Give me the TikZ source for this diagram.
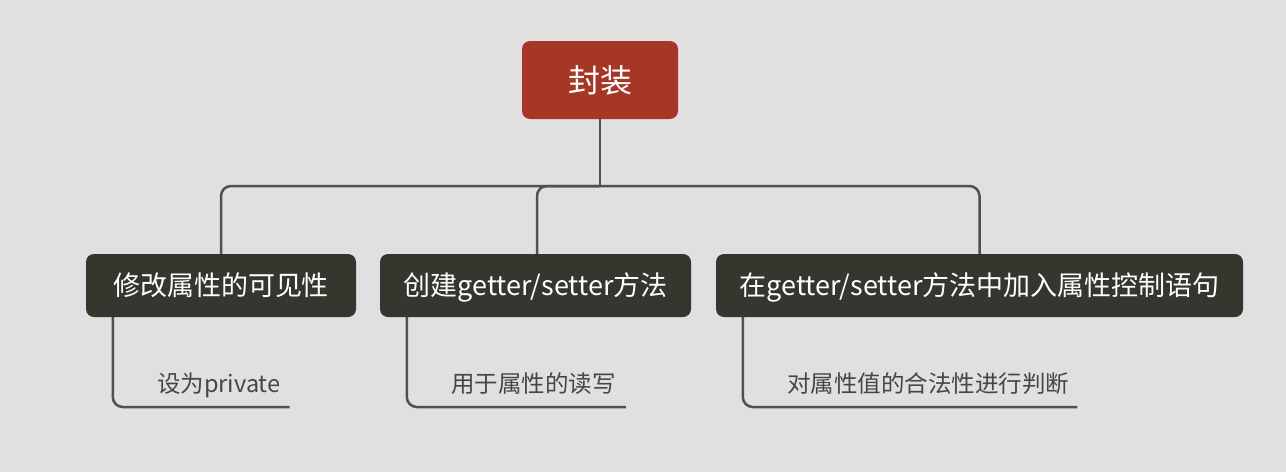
\documentclass[tikz,border=0pt]{standalone}
\usepackage{fontspec}
\setmainfont{Noto Sans CJK SC}
\definecolor{bgcol}{RGB}{224,224,224}
\definecolor{rootcol}{RGB}{166,54,38}
\definecolor{boxcol}{RGB}{54,54,47}
\definecolor{linecol}{RGB}{80,80,80}
\definecolor{subcol}{RGB}{70,70,70}
\begin{document}
\begin{tikzpicture}[x=1pt,y=-1pt,
        rootbox/.style={fill=rootcol,text=white,rounded corners=8pt,minimum width=156pt,minimum height=78pt,
            text height=28.2pt,text depth=3.8pt,font=\fontsize{32}{38}\selectfont},
        topicbox/.style={fill=boxcol,text=white,rounded corners=8pt,minimum height=63pt,inner xsep=0pt,
            text height=23.8pt,text depth=3.2pt,font=\fontsize{27}{32}\selectfont},
        subnote/.style={text=subcol,inner sep=0pt,anchor=base west,font=\fontsize{23.5}{28}\selectfont},
        link/.style={draw=linecol,line width=2.5pt,rounded corners=10pt}]
    \fill[bgcol,use as bounding box] (0,0) rectangle (1286,472);
    %% central topic
    \node[rootbox] (root) at (600,80) {封装};
    \coordinate (hub) at (600,186);
    %% main topics
    \node[topicbox,minimum width=270pt] (vis) at (221,285.5) {修改属性的可见性};
    \node[topicbox,minimum width=311pt] (gs) at (535.5,285.5) {创建getter/setter方法};
    \node[topicbox,minimum width=527pt] (ctl) at (979.5,285.5) {在getter/setter方法中加入属性控制语句};
    %% notes
    \node[subnote] (nvis) at (157,392) {设为private};
    \node[subnote] (ngs) at (451,392) {用于属性的读写};
    \node[subnote] (nctl) at (787,392) {对属性值的合法性进行判断};
    %% branches
    \draw[link] (root) -- (hub);
    \draw[link] (hub) -| (vis.north);
    \draw[link] (hub) -| ([xshift=1.5pt]gs.north);
    \draw[link] (hub) -| (ctl.north);
    \draw[link] ([xshift=27pt]vis.south west) |- ([xshift=9pt,yshift=-15pt]nvis.base east);
    \draw[link] ([xshift=27pt]gs.south west) |- ([xshift=10pt,yshift=-15pt]ngs.base east);
    \draw[link] ([xshift=27pt]ctl.south west) |- ([xshift=8pt,yshift=-15pt]nctl.base east);
\end{tikzpicture}
\end{document}
